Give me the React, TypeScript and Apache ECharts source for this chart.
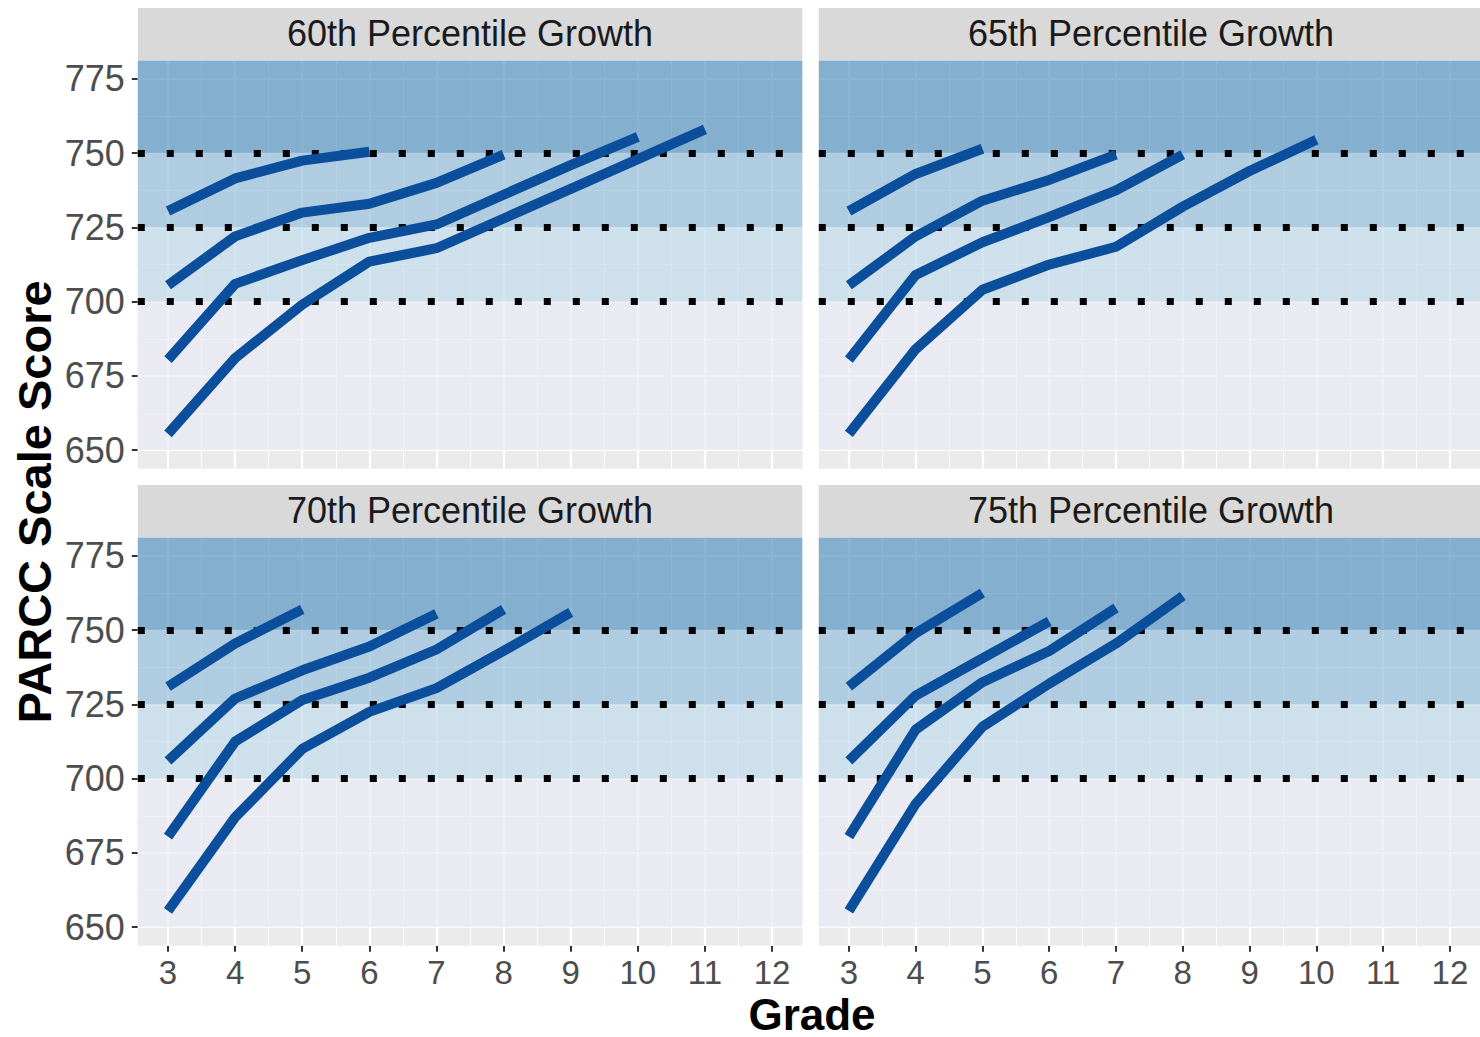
import React, { useEffect, useRef } from "react";
import * as echarts from "echarts";

// ---------- data ----------
const panelTitles = [
  "60th Percentile Growth",
  "65th Percentile Growth",
  "70th Percentile Growth",
  "75th Percentile Growth",
];
const grades = [3, 4, 5, 6, 7, 8, 9, 10, 11, 12];
const minorGrades = [3.5, 4.5, 5.5, 6.5, 7.5, 8.5, 9.5, 10.5, 11.5];
const scoreTicks = [650, 675, 700, 725, 750, 775];
const minorScoreTicks = [662.5, 687.5, 712.5, 737.5, 762.5];
const cutScores = [700, 725, 750];
const bandEdges = [650, 700, 725, 750, 781.25];

// each trajectory starts at grade 3
const p60a = [730.5, 741.5, 747.5, 750.5];
const p60b = [705.5, 722, 730, 733, 740, 749.5];
const p60c = [680.5, 706, 714, 721.5, 726, 736, 746, 755.5];
const p60d = [655.5, 681, 699, 713.5, 718, 728, 738, 748, 758];

const p65a = [730.5, 743, 751.5];
const p65b = [705.5, 722, 734, 741, 749.5];
const p65c = [680.5, 709, 720, 728.5, 737.5, 749.5];
const p65d = [655.5, 684, 704, 712.5, 718.5, 732, 744, 754.5];

const p70a = [731, 745.5, 757];
const p70b = [706, 727, 736.5, 744.5, 755.5];
const p70c = [680.5, 712.5, 726.5, 734, 743.5, 757];
const p70d = [655.5, 687, 710, 722.5, 730.5, 743, 756];

const p75a = [731, 749, 762.5];
const p75b = [706, 728, 740.5, 753];
const p75c = [680.5, 716.5, 732.5, 743, 757.5];
const p75d = [655.5, 691.5, 717.5, 732, 745.5, 761.5];

const panels = [
  [p60a, p60b, p60c, p60d],
  [p65a, p65b, p65c, p65d],
  [p70a, p70b, p70c, p70d],
  [p75a, p75b, p75c, p75d],
];

// ---------- styling / layout ----------
const FONT = "'Liberation Sans', Arial, Helvetica, sans-serif";
const LINE_COLOR = "#0B4F9C";
const BAND_COLORS = [
  "rgba(234,234,246,0.7)",
  "rgba(194,219,235,0.7)",
  "rgba(151,191,219,0.7)",
  "rgba(88,149,194,0.7)",
];
const COL_LEFT = [137.8, 818.8];
const GRID_W = 664.5;
const ROW_TOP = [60.4, 537.4];
const GRID_H = 408.3;
const STRIP_TOP = [8, 485];
const X_MIN = 2.55;
const X_MAX = 12.45;
const Y_MIN = 643.75;
const Y_MAX = 781.25;

function buildOption() {
  const grid: any[] = [];
  const xAxis: any[] = [];
  const yAxis: any[] = [];
  const series: any[] = [];
  const graphic: any[] = [];

  for (let i = 0; i < 4; i++) {
    const col = i % 2;
    const row = Math.floor(i / 2);
    const left = COL_LEFT[col];
    const top = ROW_TOP[row];
    grid.push({
      left,
      top,
      width: GRID_W,
      height: GRID_H,
      show: true,
      backgroundColor: "#EBEBEB",
      borderWidth: 0,
      containLabel: false,
    });
    const showX = row === 1;
    const showY = col === 0;
    xAxis.push({
      gridIndex: i,
      type: "value",
      min: X_MIN,
      max: X_MAX,
      axisLine: { show: false },
      splitLine: { show: false },
      axisTick: {
        show: showX,
        length: 6,
        customValues: grades,
        lineStyle: { color: "#333333", width: 2 },
      },
      axisLabel: {
        show: showX,
        customValues: grades,
        fontSize: 33,
        color: "#4D4D4D",
        fontFamily: FONT,
        margin: 10,
      },
    });
    yAxis.push({
      gridIndex: i,
      type: "value",
      min: Y_MIN,
      max: Y_MAX,
      axisLine: { show: false },
      splitLine: { show: false },
      axisTick: {
        show: showY,
        length: 6,
        customValues: scoreTicks,
        lineStyle: { color: "#333333", width: 2 },
      },
      axisLabel: {
        show: showY,
        customValues: scoreTicks,
        fontSize: 36,
        color: "#4D4D4D",
        fontFamily: FONT,
        margin: 13,
      },
    });

    // gridlines
    const gl: any[] = [];
    grades.forEach((g) => gl.push({ xAxis: g, lineStyle: { width: 2.2 } }));
    minorGrades.forEach((g) => gl.push({ xAxis: g, lineStyle: { width: 1 } }));
    scoreTicks.forEach((s) => gl.push({ yAxis: s, lineStyle: { width: 2.2 } }));
    minorScoreTicks.forEach((s) => gl.push({ yAxis: s, lineStyle: { width: 1 } }));
    series.push({
      type: "line",
      xAxisIndex: i,
      yAxisIndex: i,
      data: [],
      silent: true,
      markLine: {
        silent: true,
        z: 1,
        symbol: ["none", "none"],
        label: { show: false },
        lineStyle: { color: "#FFFFFF", type: "solid" },
        emphasis: { disabled: true },
        data: gl,
      },
    });

    // performance bands
    const areas: any[] = [];
    for (let b = 0; b < bandEdges.length - 1; b++) {
      areas.push([
        { yAxis: bandEdges[b], itemStyle: { color: BAND_COLORS[b] } },
        { yAxis: bandEdges[b + 1] },
      ]);
    }
    series.push({
      type: "line",
      xAxisIndex: i,
      yAxisIndex: i,
      data: [],
      silent: true,
      markArea: {
        silent: true,
        z: 2,
        label: { show: false },
        emphasis: { disabled: true },
        data: areas,
      },
    });

    // dotted cut-score lines
    series.push({
      type: "line",
      xAxisIndex: i,
      yAxisIndex: i,
      data: [],
      silent: true,
      markLine: {
        silent: true,
        z: 3,
        symbol: ["none", "none"],
        label: { show: false },
        emphasis: { disabled: true },
        lineStyle: { color: "#000000", width: 7, type: [7, 22], cap: "butt" },
        data: cutScores.map((c) => ({ yAxis: c })),
      },
    });

    // trajectories
    panels[i].forEach((vals) => {
      series.push({
        type: "line",
        xAxisIndex: i,
        yAxisIndex: i,
        z: 4,
        silent: true,
        showSymbol: false,
        symbol: "none",
        lineStyle: { color: LINE_COLOR, width: 10, cap: "butt", join: "round" },
        data: vals.map((v, k) => [grades[k], v]),
      });
    });

    // strip
    const stripH = top - STRIP_TOP[row] - 0.5;
    graphic.push({
      type: "rect",
      shape: { x: left, y: STRIP_TOP[row], width: GRID_W, height: stripH },
      style: { fill: "#D9D9D9" },
      silent: true,
    });
    graphic.push({
      type: "text",
      x: left + GRID_W / 2,
      y: STRIP_TOP[row] + stripH / 2,
      style: {
        text: panelTitles[i],
        fill: "#1A1A1A",
        font: `36px ${FONT}`,
        align: "center",
        verticalAlign: "middle",
      },
      silent: true,
    });
  }

  graphic.push({
    type: "text",
    x: 34,
    y: 502,
    rotation: Math.PI / 2,
    style: {
      text: "PARCC Scale Score",
      fill: "#000000",
      font: `bold 47px ${FONT}`,
      align: "center",
      verticalAlign: "middle",
    },
    silent: true,
  });
  graphic.push({
    type: "text",
    x: 812,
    y: 1014,
    style: {
      text: "Grade",
      fill: "#000000",
      font: `bold 44px ${FONT}`,
      align: "center",
      verticalAlign: "middle",
    },
    silent: true,
  });

  return {
    animation: false,
    backgroundColor: "#FFFFFF",
    grid,
    xAxis,
    yAxis,
    series,
    graphic,
  };
}

export default function App() {
  const ref = useRef<HTMLDivElement>(null);
  useEffect(() => {
    document.body.style.margin = "0";
    if (!ref.current) return;
    const chart = echarts.init(ref.current, undefined, { renderer: "svg" });
    chart.setOption(buildOption() as any);
    return () => chart.dispose();
  }, []);
  return <div ref={ref} style={{ width: 1480, height: 1037 }} />;
}
